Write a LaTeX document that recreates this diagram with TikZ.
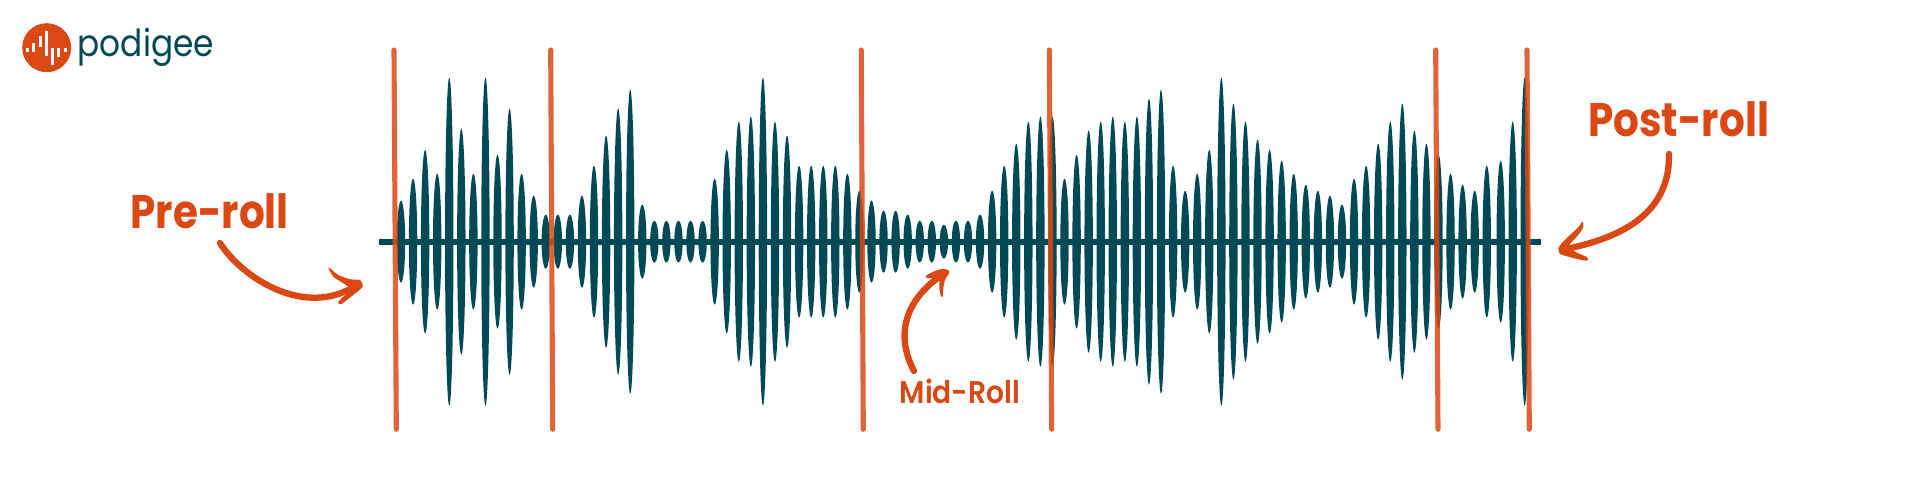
\documentclass[tikz,border=0pt]{standalone}
\usepackage{xcolor}
\usepackage{fontspec}
\usetikzlibrary{arrows.meta,positioning}
\setmainfont{Poppins}
\newfontfamily\rollfont[FakeStretch=.86]{Poppins Bold}
\newfontfamily\midfont[FakeStretch=.9]{Poppins SemiBold}
\newfontfamily\brandfont[FakeStretch=.88]{Poppins}
\definecolor{wave}{HTML}{004A57}
\definecolor{roll}{HTML}{DC4814}

\begin{document}
\begin{tikzpicture}[x=.01cm,y=-.01cm,
  cutline/.style={draw=roll,opacity=.85,line width=1.45pt,line cap=round},
  rollarrow/.style={draw=roll,line width=1.8pt,line cap=round},
  rollhead/.style={fill=roll},
  rolltext/.style={text=roll,inner sep=0pt,anchor=base west,font=\rollfont}]
\useasboundingbox (0,0) rectangle (1920,480);
% logo
\fill[roll] (46.7,47.7) circle (24.5);
\foreach \bx/\bt/\bb in {27.7/48/52,33.7/43.5/52,40.3/36/47,46.3/31/55.7,52.3/47.7/65,58.7/47.7/57.3,65.3/48/52}
  \fill[white] (\bx-1.5,\bt) rectangle (\bx+1.5,\bb);
\node[inner sep=0pt,anchor=base west,text=wave,font=\brandfont\fontsize{10.6}{12}\selectfont] (brand) at (77,56.5) {podigee};
% waveform
\draw[wave,line width=1.7pt] (379,241.7) -- (1540.7,241.7);
\foreach \a [count=\i] in {41,63,92,68,164,113,68,164,87,133,68,46,27,27,27,46,76,106,133,152,37,21,21,21,21,21,63,92,120,125,164,
  120,106,76,76,76,76,68,51,41,31,31,27,21,21,17,21,21,27,51,76,98,120,125,125,63,87,111,120,125,120,125,143,
  152,76,51,68,92,164,138,120,102,92,81,68,57,51,46,37,63,76,98,120,138,111,98,87,68,57,51,76}
  \fill[wave] ({401+12.064*(\i-1)},241.7) ellipse [x radius=4.2,y radius=\a];
\foreach \x/\a in {1500.7/81,1512.7/120,1524.7/164}
  \fill[wave] (\x,241.7) ellipse [x radius=4.2,y radius=\a];
% cut positions
\foreach \xt/\xb in {394/396.3,550.7/552.7,861.3/863.3,1049.3/1051.7,1435.7/1438,1527/1529.3}
  \draw[cutline] (\xt,50) -- (\xb,429.3);
% labels
\node[rolltext,font=\rollfont\fontsize{13.4}{15}\selectfont] (pre) at (130,228.3) {Pre-roll};
\node[rolltext,font=\rollfont\fontsize{13.4}{15}\selectfont] (post) at (1587.5,136.7) {Post-roll};
\node[rolltext,font=\midfont\fontsize{8.9}{10}\selectfont] (mid) at (899,404) {Mid-Roll};
% arrows
\coordinate (pretail) at (220,243);
\coordinate (pretip) at (352,288);
\coordinate (midtail) at (914,371);
\coordinate (midtip) at (942,275);
\coordinate (posttail) at (1669,154);
\coordinate (posttip) at (1566,249);
\draw[rollarrow] (pretail) .. controls (240,275) and (300,317) .. (pretip);
\draw[rollarrow] (midtail) .. controls (895,335) and (905,300) .. (midtip);
\draw[rollarrow] (posttail) .. controls (1670,205) and (1635,235) .. (posttip);
\fill[rollhead] plot[smooth cycle,tension=.35] coordinates {(328.3,267.3) (338.3,275) (350,279.3) (360,280) (362.7,286.7) (353.3,295) (341.7,304) (339.3,304) (338.3,301.7) (350,290) (348.3,286.7) (343.3,283.3) (333.3,276.7)};
\fill[rollhead] plot[smooth cycle,tension=.35] coordinates {(926,275.7) (933.3,271.7) (941.7,269) (948.3,270) (949,273.3) (945,280) (943.3,288.3) (942.7,296.7) (940.7,295.7) (939.3,288.3) (939.3,280) (936.7,279) (931.7,278.3) (926,277.7)};
\fill[rollhead] plot[smooth cycle,tension=.35] coordinates {(1582.3,221.7) (1583.3,227.3) (1578.3,235) (1570,244) (1570,248.3) (1578.3,253.3) (1587.3,257.3) (1587.3,260.7) (1578.3,259.3) (1568.3,256.7) (1560,254) (1558.3,248.3) (1561.7,243.3) (1570,235) (1578.3,227.3)};
\end{tikzpicture}
\end{document}
